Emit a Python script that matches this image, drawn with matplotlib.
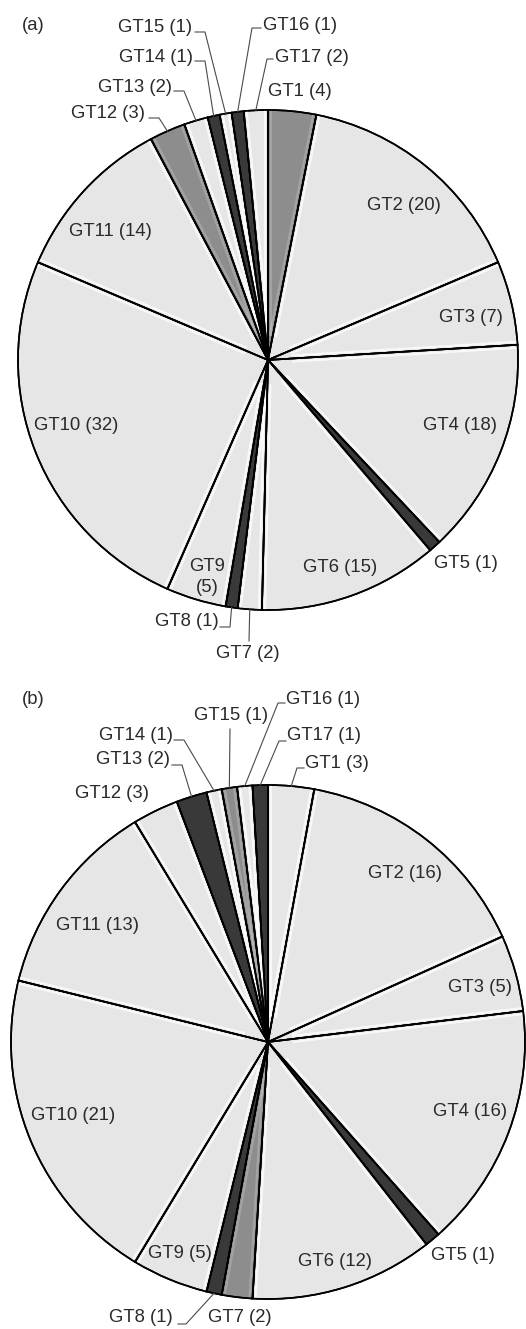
import numpy as np
import matplotlib.pyplot as plt
from matplotlib.patches import Wedge

# genotype counts, clockwise from 12 o'clock
genotypes = ["GT%d" % i for i in range(1, 18)]
counts_a = [4, 20, 7, 18, 1, 15, 2, 1, 5, 32, 14, 3, 2, 1, 1, 1, 2]
counts_b = [3, 16, 5, 16, 1, 12, 2, 1, 5, 21, 13, 3, 2, 1, 1, 1, 1]

LIGHT, MID, DARK = "#e6e6e6", "#8d8d8d", "#393939"
shade_a = ["m", "l", "l", "l", "d", "l", "l", "d", "l", "l", "l", "m", "l", "d", "l", "d", "l"]
shade_b = ["l", "l", "l", "l", "d", "l", "m", "d", "l", "l", "l", "l", "d", "l", "m", "l", "d"]
pal = {"l": LIGHT, "m": MID, "d": DARK}

W, H = 526, 1329
TXT = "#2a2a2a"
FS = 13.3

fig = plt.figure(figsize=(W / 100, H / 100), dpi=100)
ax = fig.add_axes([0, 0, 1, 1])


def Y(y):
    # pixel rows run downward, data y runs upward
    return H - y


def draw_pie(counts, shades, cx, cy, r, label_pos, leaders, tag, tag_pos):
    wedges, _ = ax.pie(counts, colors=[pal[s] for s in shades], startangle=90,
                       counterclock=False, center=(cx, Y(cy)), radius=r,
                       wedgeprops=dict(edgecolor="black", linewidth=1.2))
    # soft white bevel just inside each wedge edge, clipped to the wedge
    for w, s in zip(wedges, shades):
        if s == "d":
            continue
        a = 0.75 if s == "l" else 0.2
        for t, side in ((np.radians(w.theta1), 1), (np.radians(w.theta2), -1)):
            nx, ny = -np.sin(t) * side, np.cos(t) * side
            off = 3.0
            r0, r1 = 0.1 * r, r
            ln, = ax.plot([cx + r0 * np.cos(t) + off * nx, cx + r1 * np.cos(t) + off * nx],
                          [Y(cy) + r0 * np.sin(t) + off * ny, Y(cy) + r1 * np.sin(t) + off * ny],
                          color="white", lw=1.6, alpha=a, zorder=1.5)
            ln.set_clip_path(w)
    for w in wedges:
        w.set_zorder(1)
        # outline again on top of the bevel
        ax.add_patch(Wedge(w.center, w.r, w.theta1, w.theta2, fill=False,
                           edgecolor="black", linewidth=1.2, zorder=2))
    for i, (w, name, n) in enumerate(zip(wedges, genotypes, counts)):
        x, y = label_pos[i]
        txt = f"{name}\n({n})" if (name == "GT9" and tag == "(a)") else f"{name} ({n})"
        ax.text(x, Y(y), txt, ha="center", va="center", fontsize=FS,
                color=TXT, family="Liberation Sans", linespacing=1.3, zorder=5)
        if i in leaders:
            mid = np.radians((w.theta1 + w.theta2) / 2)
            ex, ey = cx + r * np.cos(mid), Y(cy) + r * np.sin(mid)
            xs = [p[0] for p in leaders[i]] + [ex]
            ys = [Y(p[1]) for p in leaders[i]] + [ey]
            ax.plot(xs, ys, color="#4a4a4a", lw=0.8, zorder=4)
    ax.text(tag_pos[0], Y(tag_pos[1]), tag, ha="left", va="center",
            fontsize=FS, color=TXT, family="Liberation Sans")


pos_a = [(300, 92), (404, 205), (471, 317), (460, 425), (466, 563), (340, 567),
         (248, 653), (187, 622), (207, 577), (76, 425), (110, 232), (108, 113),
         (135, 87), (156, 57), (155, 27), (300, 26), (312, 57)]
lead_a = {
    14: [(195, 32), (205, 32)],
    15: [(261, 28), (252, 28)],
    13: [(195, 61), (205, 61)],
    16: [(273, 59), (267, 59)],
    12: [(174, 91), (184, 91)],
    11: [(149, 118), (159, 118)],
    7: [(220, 627), (230, 627)],
    6: [(249, 641)],
}

pos_b = [(337, 763), (405, 873), (480, 987), (470, 1112), (463, 1255), (335, 1262),
         (240, 1318), (141, 1318), (180, 1253), (73, 1115), (97, 925), (112, 793),
         (133, 760), (136, 735), (231, 716), (323, 699), (324, 735)]
lead_b = {
    15: [(285, 703), (278, 703)],
    14: [(230, 729)],
    13: [(174, 740), (184, 740)],
    16: [(286, 741), (279, 741)],
    12: [(172, 765), (182, 765)],
    0: [(304, 768), (297, 768)],
    7: [(178, 1324), (186, 1324)],
}

draw_pie(counts_a, shade_a, 268, 360, 250, pos_a, lead_a, "(a)", (22, 26))
draw_pie(counts_b, shade_b, 268, 1042, 257, pos_b, lead_b, "(b)", (22, 699))

ax.set_xlim(0, W)
ax.set_ylim(0, H)
ax.set_aspect("equal")
ax.axis("off")

fig.savefig("out.png", dpi=100, facecolor="white")
